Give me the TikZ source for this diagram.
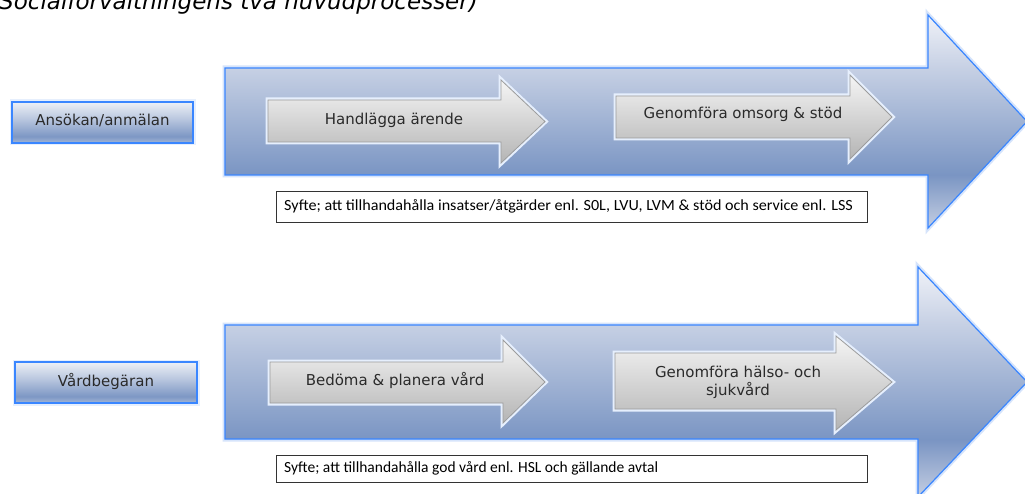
\documentclass[tikz,border=0pt]{standalone}
\usepackage{fontspec}
\setmainfont{DejaVu Sans}
\newfontfamily\calfont{Carlito}
\definecolor{bgA}{HTML}{C4CEE2}
\definecolor{bgB}{HTML}{7A95C3}
\definecolor{bgC}{HTML}{C6D0E4}
\definecolor{bgD}{HTML}{F0F2F8}
\definecolor{edgeblue}{HTML}{3A86FF}
\definecolor{glowblue}{HTML}{D6E4FB}
\definecolor{lblTop}{HTML}{EDF0F6}
\definecolor{lblBot}{HTML}{7D97C4}
\definecolor{grayTop}{HTML}{F5F5F5}
\definecolor{grayBot}{HTML}{B4B4B4}
\definecolor{grayEdge}{HTML}{9C9C9C}
\definecolor{txt}{HTML}{2A2A2A}
\pgfdeclareverticalshading{bigarrowshade}{100bp}{color(0bp)=(bgA); color(25bp)=(bgA); color(37.5bp)=(bgB); color(62.5bp)=(bgC); color(75bp)=(bgD); color(100bp)=(bgD)}
\pgfdeclareverticalshading{lblshade}{100bp}{color(0bp)=(lblBot!70!white); color(25bp)=(lblBot!70!white); color(33bp)=(lblBot); color(55bp)=(lblBot!45!lblTop); color(75bp)=(lblTop); color(100bp)=(lblTop)}
\tikzset{
  bigarrow/.style={shading=bigarrowshade, draw=edgeblue, line width=1.2pt, line join=miter},
  bigglow/.style={draw=glowblue, line width=5pt, line join=miter},
  grayarrow/.style={top color=grayTop, bottom color=grayBot, draw=grayEdge, line width=0.8pt},
  grayglow/.style={draw=glowblue!60!white, line width=5pt},
  lblbox/.style={shading=lblshade, draw=edgeblue, line width=1.2pt},
  lbltext/.style={text=txt, font=\fontsize{15}{18}\selectfont},
  syftebox/.style={fill=white, draw=black!80, line width=0.9pt},
  syftetext/.style={text=black, font=\calfont\fontsize{15.5}{17}\selectfont, anchor=west, inner sep=0pt}
}
\begin{document}
\begin{tikzpicture}[x=1pt,y=-1pt]
\useasboundingbox (0,0) rectangle (1025,494);
\fill[white] (0,0) rectangle (1025,494);
% title (cut off at top)
\node[anchor=base west, inner sep=0pt, font=\itshape\fontsize{23}{27}\selectfont, text=black] (title) at (-1,10) {Socialförvaltningens två huvudprocesser)};

% ===== process 1 =====
\path[bigglow] (225,68) -- (928,68) -- (928,15) -- (1027,121.5) -- (928,228) -- (928,175) -- (225,175) -- cycle;
\shade[bigarrow] (225,68) -- (928,68) -- (928,15) -- (1027,121.5) -- (928,228) -- (928,175) -- (225,175) -- cycle;

\path[grayglow] (268,100) -- (501,100) -- (501,80) -- (545,121.5) -- (501,163) -- (501,142) -- (268,142) -- cycle;
\shade[grayarrow] (268,100) -- (501,100) -- (501,80) -- (545,121.5) -- (501,163) -- (501,142) -- (268,142) -- cycle;
\node[lbltext] (handl) at (394,120) {Handlägga ärende};

\path[grayglow] (616,96) -- (850,96) -- (850,75) -- (892,117) -- (850,159) -- (850,138) -- (616,138) -- cycle;
\shade[grayarrow] (616,96) -- (850,96) -- (850,75) -- (892,117) -- (850,159) -- (850,138) -- (616,138) -- cycle;
\node[lbltext] (omsorg) at (743,114) {Genomföra omsorg \& stöd};

\path[grayglow] (12,102) rectangle (193,143);
\shade[lblbox] (12,102) rectangle (193,143);
\node[lbltext] (ansokan) at (102.5,121) {Ansökan/anmälan};

\draw[syftebox] (276,191) rectangle (867,222);
\node[syftetext] (syfte1) at (284,206.5) {\scalebox{1.04}[1]{Syfte; att tillhandahålla insatser/åtgärder enl. S0L, LVU, LVM \& stöd och service enl. LSS}};

% ===== process 2 =====
\path[bigglow] (225,325) -- (918,325) -- (918,267) -- (1027,382) -- (918,497) -- (918,439) -- (225,439) -- cycle;
\shade[bigarrow] (225,325) -- (918,325) -- (918,267) -- (1027,382) -- (918,497) -- (918,439) -- (225,439) -- cycle;

\path[grayglow] (270,362) -- (503,362) -- (503,340) -- (545,382) -- (503,423) -- (503,403) -- (270,403) -- cycle;
\shade[grayarrow] (270,362) -- (503,362) -- (503,340) -- (545,382) -- (503,423) -- (503,403) -- (270,403) -- cycle;
\node[lbltext] (bedoma) at (395,380) {Bedöma \& planera vård};

\path[grayglow] (615,353) -- (836,353) -- (836,336) -- (892,382) -- (836,430) -- (836,409) -- (615,409) -- cycle;
\shade[grayarrow] (615,353) -- (836,353) -- (836,336) -- (892,382) -- (836,430) -- (836,409) -- (615,409) -- cycle;
\node[lbltext, align=center] (halso) at (738,382) {Genomföra hälso- och\\sjukvård};

\path[grayglow] (15,362) rectangle (197,403);
\shade[lblbox] (15,362) rectangle (197,403);
\node[lbltext] (vard) at (106,381) {Vårdbegäran};

\draw[syftebox] (276,455) rectangle (867,482);
\node[syftetext] (syfte2) at (284,468.5) {Syfte; att tillhandahålla god vård enl. HSL och gällande avtal};
\end{tikzpicture}
\end{document}
